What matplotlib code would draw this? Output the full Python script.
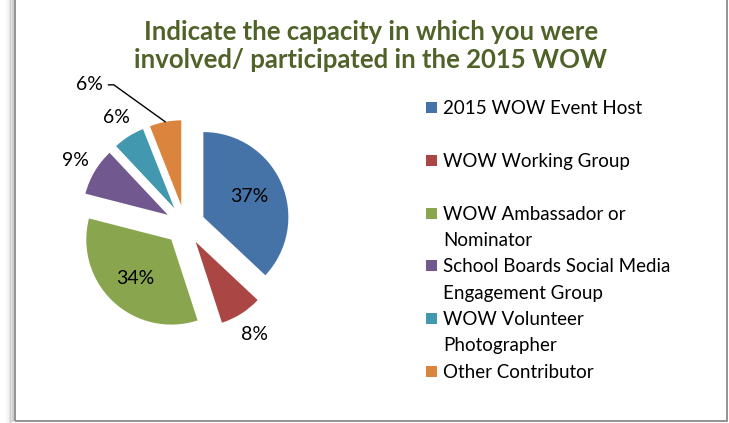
import numpy as np
import matplotlib.pyplot as plt
from matplotlib.patches import Rectangle
from matplotlib.lines import Line2D

plt.rcParams['font.family'] = ['Lato', 'DejaVu Sans']

# data
categories = ["2015 WOW Event Host", "WOW Working Group", "WOW Ambassador or Nominator",
              "School Boards Social Media Engagement Group", "WOW Volunteer Photographer",
              "Other Contributor"]
legend_lines = [["2015 WOW Event Host"], ["WOW Working Group"],
                ["WOW Ambassador or", "Nominator"],
                ["School Boards Social Media", "Engagement Group"],
                ["WOW Volunteer", "Photographer"], ["Other Contributor"]]
shares = [37, 8, 34, 9, 6, 6]
colors = ["#4572A7", "#AA4643", "#89A54E", "#71588F", "#4198AF", "#DB843D"]
label_dist = [0.83, 1.52, 0.86, 1.5, 1.5, None]
title_lines = ["Indicate the capacity in which you were",
               "involved/ participated in the 2015 WOW"]

W, H = 729, 423
fig = plt.figure(figsize=(W / 100, H / 100), dpi=100)


def fx(px):
    return px / W


def fy(py):
    return 1 - py / H


# chart frame with a soft shadow on the left and bottom
for i, a in enumerate([0.4, 0.26, 0.16, 0.09, 0.05]):
    fig.add_artist(Line2D([fx(13 - 1.5 * i)] * 2, [fy(421 + i), 1.0],
                          transform=fig.transFigure, color="#707070", lw=1.2, alpha=a))
fig.add_artist(Rectangle((fx(14.5), fy(421)), fx(727) - fx(14.5), 1.2,
                         transform=fig.transFigure, fill=False,
                         edgecolor="#8a8a8a", lw=1.3))

for k, line in enumerate(title_lines):
    fig.text(fx(371), fy(40 + 28 * k), line, ha="center", va="baseline",
             fontsize=18.5, fontweight="bold", color="#4F6228")

# pie
R = 85.0
ax = fig.add_axes([fx(65), fy(345), 240 / W, 240 / H])
wedges, _ = ax.pie(shares, colors=colors, startangle=90, counterclock=False,
                   explode=[20 / R] * len(shares), radius=1,
                   wedgeprops=dict(linewidth=0))
ax.set_xlim(-120 / R, 120 / R)
ax.set_ylim(-120 / R, 120 / R)
ax.axis("off")

for w, s, d in zip(wedges, shares, label_dist):
    ang = np.deg2rad((w.theta1 + w.theta2) / 2)
    if d is None:
        r = 1 + 20 / R
        ax.annotate(f"{s}%", xy=(r * np.cos(ang), r * np.sin(ang)),
                    xytext=(-76, 37), textcoords="offset pixels",
                    ha="center", va="center", fontsize=14,
                    arrowprops=dict(arrowstyle="-", color="black", lw=1,
                                    shrinkB=0,
                                    connectionstyle="angle,angleA=0,angleB=-35.7,rad=0"))
    else:
        ax.text(d * np.cos(ang), d * np.sin(ang), f"{s}%", ha="center",
                va="center", fontsize=14)

# legend
y0 = 108
for i, (lines, c) in enumerate(zip(legend_lines, colors)):
    yc = y0 + 52.6 * i
    fig.add_artist(Rectangle((fx(426), fy(yc + 5.5)), 11 / W, 11 / H,
                             transform=fig.transFigure, facecolor=c, edgecolor="none"))
    for j, line in enumerate(lines):
        fig.text(fx(443), fy(yc + 26.5 * j + 6.5), line, ha="left",
                 va="baseline", fontsize=13.5)

fig.savefig("out.png", dpi=100)
